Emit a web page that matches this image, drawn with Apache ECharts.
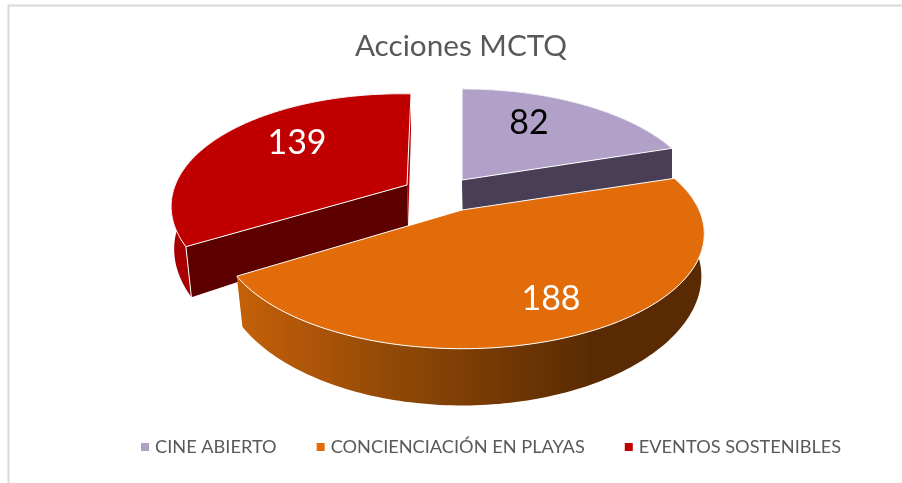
<!DOCTYPE html>
<html>
<head>
<meta charset="utf-8">
<style>html,body{margin:0;padding:0;background:#fff}#c{width:902px;height:483px}</style>
<script src="https://cdn.jsdelivr.net/npm/echarts@6/dist/echarts.min.js"></script>
</head>
<body>
<div id="c"></div>
<script>
var title = 'Acciones MCTQ';
var categories = ['CINE ABIERTO', 'CONCIENCIACIÓN EN PLAYAS', 'EVENTOS SOSTENIBLES'];
var values = [82, 188, 139];

var topColors = ['#B1A0C7', '#E26B0A', '#C00000'];
var wallColors = ['#483E55', '#5A2B03', '#5C0000'];
var rimColors = ['#483E55', null, '#A80000'];
var labelColors = ['#000000', '#ffffff', '#ffffff'];
var apex = [[462, 180], [462, 210], [407, 185]];
var labelOffsets = [[67, -57], [89, 89], [-110, -42]];
var stacking = [2, 4, 3];
var widthScale = [0.985, 0.996, 0.965];
var lean = [0, 0, -0.044];
var tilt = [0, 0, 0.02];

var RX = 238, RY = 110, PERSP = 0.207, DEPTH = 45, APEX_DEPTH = 41;
var total = values.reduce(function (a, b) { return a + b; }, 0);

function project(c, deg, i) {
  var t = deg * Math.PI / 180, x = Math.sin(t), y = -Math.cos(t), w = 1 - PERSP * y;
  return [c[0] + RX * widthScale[i] * x / w + lean[i] * RY * y / w,
          c[1] + RY * y / w + tilt[i] * RX * x / w, w];
}
function lower(c, p) {
  var s = Math.min(1, 0.995 - 0.18 * (1 - p[2]));
  return [c[0] + (p[0] - c[0]) * s, p[1] + DEPTH / p[2]];
}
function arc(c, a, b, i) {
  var pts = [], n = 140;
  for (var k = 0; k <= n; k++) pts.push(project(c, a + (b - a) * k / n, i));
  return pts;
}
function xy(p) { return [p[0], p[1]]; }

function renderSlice(i) {
  return function (params, api) {
    var value = api.value(0), start = api.value(1);
    var a = 360 * start / total, b = 360 * (start + value) / total;
    var c = apex[i], top = arc(c, a, b, i), bottomC = [c[0] + 1, c[1] + APEX_DEPTH];
    var low = top.map(function (p) { return lower(c, p); });
    var rimFill = i === 1 ? {
      type: 'linear', global: true, x: 238, y: 0, x2: 590, y2: 0,
      colorStops: [{ offset: 0, color: '#C56009' }, { offset: 0.45, color: '#904806' }, { offset: 1, color: '#5A2B03' }]
    } : rimColors[i];
    var first = top[0], last = top[top.length - 1];
    var children = [];
    children.push({ type: 'polygon', shape: { points: top.map(xy).concat(low.slice().reverse()) },
      style: { fill: rimFill } });
    if (i !== 1) {
      children.push({ type: 'polygon',
        shape: { points: [xy(last), c, bottomC, low[low.length - 1]] }, style: { fill: i === 2 ? rimColors[2] : wallColors[i] } });
      children.push({ type: 'polygon',
        shape: { points: [xy(first), c, bottomC, low[0]] }, style: { fill: wallColors[i] } });
    }
    if (i === 2) {
      children.push({ type: 'polyline', shape: { points: [xy(top[0]), low[0]] }, style: { stroke: '#ffffff', lineWidth: 1, fill: null } });
    }
    children.push({ type: 'polygon', shape: { points: [c].concat(top.map(xy)) },
      style: { fill: topColors[i], stroke: '#ffffff', lineWidth: 1 } });
    children.push({ type: 'text', style: {
      text: String(value), x: c[0] + labelOffsets[i][0], y: c[1] + labelOffsets[i][1],
      fill: labelColors[i], font: '34px Lato', textAlign: 'center', textVerticalAlign: 'middle' } });
    return { type: 'group', children: children };
  };
}

var cumulative = 0;
var series = categories.map(function (name, i) {
  var s = {
    type: 'custom', name: name, coordinateSystem: 'none', z: stacking[i],
    itemStyle: { color: topColors[i] },
    renderItem: renderSlice(i), silent: true,
    encode: { tooltip: 0 },
    data: [[values[i], cumulative]]
  };
  cumulative += values[i];
  return s;
});

var chart = echarts.init(document.getElementById('c'), null, { renderer: 'canvas' });
chart.setOption({
  animation: false,
  title: { text: title, left: 456, top: 26, textAlign: 'center',
    textStyle: { fontFamily: 'Lato', fontSize: 29.7, fontWeight: 'normal', color: '#595959' } },
  legend: { data: categories, left: 136, top: 433, itemWidth: 8, itemHeight: 8, itemGap: 40, icon: 'rect',
    textStyle: { fontFamily: 'Lato', fontSize: 18.2, color: '#595959', padding: [0, 0, 0, 1] } },
  graphic: [{ type: 'polyline', silent: true, z: 0,
    shape: { points: [[8.5, 483], [8.5, 5.5], [902, 5.5]] },
    style: { stroke: '#D9D9D9', lineWidth: 2, fill: null } }],
  series: series
});
</script>
</body>
</html>
